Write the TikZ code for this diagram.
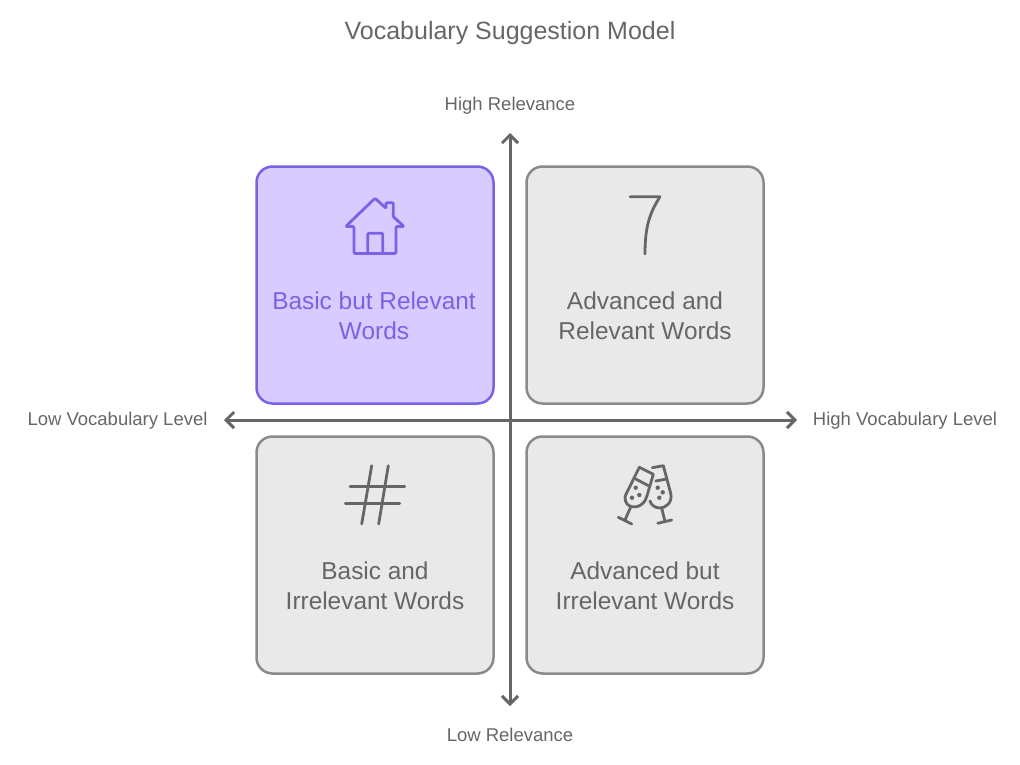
\documentclass[tikz,border=0pt]{standalone}
\usepackage{fontspec}
\setmainfont{Liberation Sans}
\usetikzlibrary{arrows.meta}
\definecolor{boxgrey}{HTML}{E9E9E9}
\definecolor{edgegrey}{HTML}{8A8A8A}
\definecolor{inkgrey}{HTML}{666666}
\definecolor{boxpurple}{HTML}{D6CCFF}
\definecolor{inkpurple}{HTML}{7B61E6}
\tikzset{
  quadbox/.style={draw=edgegrey, fill=boxgrey, line width=2.5pt, rounded corners=16pt,
    minimum width=237pt, minimum height=237pt},
  quadtext/.style={text=inkgrey, align=center, font=\fontsize{24.4}{30}\selectfont},
  axislabel/.style={text=inkgrey, font=\fontsize{18.5}{22}\selectfont},
  axisline/.style={draw=inkgrey, line width=3pt, {Straight Barb[length=8pt,width=16pt]}-{Straight Barb[length=8pt,width=16pt]}},
  iconline/.style={draw=inkgrey, line width=2.8pt, line cap=round, line join=round},
}
\begin{document}
\begin{tikzpicture}[x=1pt, y=-1pt]
  \useasboundingbox (0,0) rectangle (1020,765);

  \node[text=inkgrey, font=\fontsize{25}{30}\selectfont] (title) at (510,33) {Vocabulary Suggestion Model};

  % quadrants
  \node[quadbox, draw=inkpurple, fill=boxpurple] (basicrel) at (375,285) {};
  \node[quadbox] (advrel) at (645,285) {};
  \node[quadbox] (basicirr) at (375,555) {};
  \node[quadbox] (advirr) at (645,555) {};

  \node[quadtext, text=inkpurple] (basicreltext) at (374,315.5) {Basic but Relevant\\Words};
  \node[quadtext] (advreltext) at (645,315.5) {Advanced and\\Relevant Words};
  \node[quadtext] (basicirrtext) at (375,585.5) {Basic and\\Irrelevant Words};
  \node[quadtext] (advirrtext) at (645,585.5) {Advanced but\\Irrelevant Words};

  % axes
  \coordinate (vtop) at (510,133);
  \coordinate (vbottom) at (510,706);
  \coordinate (hleft) at (224,420);
  \coordinate (hright) at (797,420);
  \draw[axisline] (vbottom) -- (vtop);
  \draw[axisline] (hleft) -- (hright);

  \node[axislabel] (highrel) at (510,105.5) {High Relevance};
  \node[axislabel] (lowrel) at (510,735) {Low Relevance};
  \node[axislabel] (lowvoc) at (117.5,420.5) {Low Vocabulary Level};
  \node[axislabel] (highvoc) at (905,420.5) {High Vocabulary Level};

  % house
  \draw[iconline, draw=inkpurple, rounded corners=1pt] (386,208.3) -- (386,202.7) -- (393.3,202.7) -- (393.3,216.7)
    -- (404,226.5) -- (396,226.5) -- (396,253.5) -- (354,253.5) -- (354,226.5) -- (345.7,226.5)
    -- (375,198.3) -- cycle;
  \draw[iconline, draw=inkpurple, rounded corners=1pt] (367.7,253.5) -- (367.7,233.3) -- (382.7,233.3) -- (382.7,253.5);

  % seven
  \draw[iconline] (630,196.7) -- (660,196.7) .. controls (649,214) and (645,228) .. (645,254);

  % hash
  \draw[iconline] (371.7,465.7) -- (361.7,524);
  \draw[iconline] (388.3,465.7) -- (378.7,524);
  \draw[iconline] (350,486.3) -- (404.7,486.3);
  \draw[iconline] (345.3,503.3) -- (399.7,503.3);

  % glasses
  \draw[iconline] (639.3,467.3) -- (653.3,474.3) -- (646.7,496.7) .. controls (643.5,509) and (628,510) .. (625.5,501)
    .. controls (624.5,498) and (625,496) .. (626,494.3) -- cycle;
  \draw[iconline] (635.7,479) -- (649,486);
  \draw[iconline] (630.7,507) -- (625,520);
  \draw[iconline] (618.3,517.3) -- (631.7,524);
  \draw[iconline] (652.3,467.7) -- (663.3,465.7) -- (670.7,493.3) .. controls (673,503) and (665,508) .. (660,508)
    .. controls (655,508) and (651,505) .. (650,501);
  \draw[iconline] (655.7,481) -- (666.7,479);
  \draw[iconline] (661.7,508) -- (665,521.7);
  \draw[iconline] (657.7,523.3) -- (671.7,520);
  \foreach \px/\py in {635.7/487.7, 639.3/495, 632/497.7, 657.7/487.7, 662.7/492.3, 659.3/497.7}
    \fill[inkgrey] (\px,\py) circle (2.2pt);
\end{tikzpicture}
\end{document}
